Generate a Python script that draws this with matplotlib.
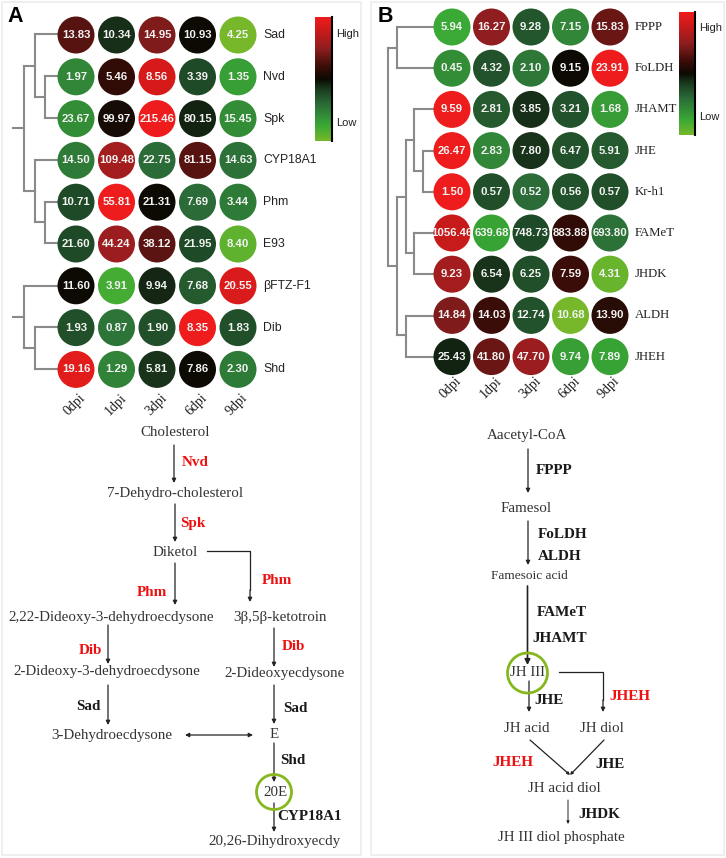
# Heatmaps of gene expression with the ecdysone and JH pathways below them.

import numpy as np
import matplotlib
matplotlib.use("Agg")
import matplotlib.pyplot as plt
from matplotlib.colors import LinearSegmentedColormap
from matplotlib.patches import Circle, FancyArrowPatch, Rectangle

days = ["0dpi", "1dpi", "3dpi", "6dpi", "9dpi"]

genes_a = ["Sad", "Nvd", "Spk", "CYP18A1", "Phm", "E93", "βFTZ-F1", "Dib", "Shd"]
values_a = [
    ["13.83", "10.34", "14.95", "10.93", "4.25"],
    ["1.97", "5.46", "8.56", "3.39", "1.35"],
    ["23.67", "99.97", "215.46", "80.15", "15.45"],
    ["14.50", "109.48", "22.75", "81.15", "14.63"],
    ["10.71", "55.81", "21.31", "7.69", "3.44"],
    ["21.60", "44.24", "38.12", "21.95", "8.40"],
    ["11.60", "3.91", "9.94", "7.68", "20.55"],
    ["1.93", "0.87", "1.90", "8.35", "1.83"],
    ["19.16", "1.29", "5.81", "7.86", "2.30"],
]
# colour position of each cell, 0 = low, 1 = high
levels_a = [
    [0.65, 0.44, 0.72, 0.50, 0.00],
    [0.22, 0.58, 0.92, 0.38, 0.15],
    [0.20, 0.52, 1.00, 0.46, 0.20],
    [0.25, 0.80, 0.30, 0.65, 0.28],
    [0.38, 1.00, 0.50, 0.30, 0.25],
    [0.38, 0.78, 0.66, 0.38, 0.05],
    [0.50, 0.10, 0.45, 0.34, 0.93],
    [0.37, 0.27, 0.37, 1.00, 0.37],
    [0.96, 0.23, 0.43, 0.50, 0.25],
]

genes_b = ["FPPP", "FoLDH", "JHAMT", "JHE", "Kr-h1", "FAMeT", "JHDK", "ALDH", "JHEH"]
values_b = [
    ["5.94", "16.27", "9.28", "7.15", "15.83"],
    ["0.45", "4.32", "2.10", "9.15", "23.91"],
    ["9.59", "2.81", "3.85", "3.21", "1.68"],
    ["26.47", "2.83", "7.80", "6.47", "5.91"],
    ["1.50", "0.57", "0.52", "0.56", "0.57"],
    ["1056.46", "639.68", "748.73", "883.88", "693.80"],
    ["9.23", "6.54", "6.25", "7.59", "4.31"],
    ["14.84", "14.03", "12.74", "10.68", "13.90"],
    ["25.43", "41.80", "47.70", "9.74", "7.89"],
]
levels_b = [
    [0.12, 0.75, 0.35, 0.22, 0.68],
    [0.20, 0.36, 0.26, 0.50, 1.00],
    [1.00, 0.34, 0.44, 0.36, 0.16],
    [1.00, 0.22, 0.43, 0.36, 0.34],
    [1.00, 0.37, 0.30, 0.36, 0.37],
    [0.88, 0.14, 0.38, 0.58, 0.28],
    [0.80, 0.43, 0.37, 0.60, 0.03],
    [0.72, 0.60, 0.36, 0.00, 0.56],
    [0.46, 0.68, 0.78, 0.15, 0.14],
]

cmap = LinearSegmentedColormap.from_list("rkg", [
    (0.00, "#76b82a"), (0.12, "#3aa935"), (0.30, "#2a6a38"), (0.42, "#1a3a1e"),
    (0.50, "#0c0a04"), (0.60, "#3a0d08"), (0.75, "#8f1e20"), (0.90, "#cf1a1a"),
    (1.00, "#ee1c1c"),
])

SERIF = "Liberation Serif"
SANS = "Liberation Sans"
GRAY = "#8a8a8a"
RED = "#ee1111"
GREEN = "#86b81e"

fig = plt.figure(figsize=(7.26, 8.58), dpi=100)
ax = fig.add_axes([0, 0, 1, 1])
ax.axis("off")


def heatmap(values, levels, genes, x0, y0, dx, dy, gene_font, gene_size, tick_y):
    for i in range(len(genes)):
        y = y0 + i * dy
        for j in range(len(days)):
            x = x0 + j * dx
            ax.add_patch(Circle((x, y), 18.5, color=cmap(levels[i][j]), lw=0, zorder=2))
            ax.text(x, y, values[i][j], color="#f2f2f2", family=SANS, weight="bold",
                    size=8.2, ha="center", va="center", zorder=3)
        ax.text(x0 + 4 * dx + 25, y, genes[i], color="#222222", family=gene_font,
                size=gene_size, ha="left", va="center")
    for j, day in enumerate(days):
        ax.text(x0 + j * dx - 1, tick_y, day, family=SERIF, size=10, rotation=45,
                color="#222222", ha="center", va="center")


def colorbar(x0, x1, y0, y1, high_y, low_y):
    grad = np.linspace(1, 0, 200).reshape(-1, 1)
    ax.imshow(grad, cmap=cmap, vmin=0, vmax=1, aspect="auto", extent=(x0, x1, y1, y0), zorder=2)
    ax.plot([x1, x1], [y0, y1], color="black", lw=1.5, zorder=3)
    ax.text(x1 + 4, high_y, "High", family=SANS, size=8, color="#222222", va="center")
    ax.text(x1 + 4, low_y, "Low", family=SANS, size=8, color="#222222", va="center")


def tree(segments):
    for x1, y1, x2, y2 in segments:
        ax.plot([x1, x2], [y1, y2], color=GRAY, lw=1.5, solid_capstyle="projecting", zorder=1)


def arrow(x1, y1, x2, y2, style="-|>", lw=0.9, head=6):
    ax.add_patch(FancyArrowPatch((x1, y1), (x2, y2), arrowstyle=style, mutation_scale=head,
                                 color="#222222", lw=lw, shrinkA=0, shrinkB=0, zorder=2))


def label(x, y, text, size=10.8):
    ax.text(x, y, text, family=SERIF, size=size, color="#333333",
            ha="center", va="center", zorder=3)


def enzyme(x, y, text, color="#1a1a1a"):
    ax.text(x, y, text, family=SERIF, weight="bold", size=10.9, color=color,
            ha="center", va="center", zorder=3)


# panel frames
ax.add_patch(Rectangle((2, 2), 359, 853, fill=False, ec="#ececec", lw=1.2))
ax.add_patch(Rectangle((371, 2), 353, 853, fill=False, ec="#ececec", lw=1.2))
ax.text(15, 17, "A", family=SANS, weight="bold", size=15.5, ha="center", va="center")
ax.text(385, 16, "B", family=SANS, weight="bold", size=15.5, ha="center", va="center")

# panel A heatmap
heatmap(values_a, levels_a, genes_a, 76, 35, 40.5, 41.8, SANS, 8.8, 405)
colorbar(315, 332, 17, 141, 34, 123)
tree([
    (13, 128, 24, 128), (24, 66, 24, 191), (24, 66, 35, 66), (35, 34, 35, 97),
    (35, 34, 58, 34), (35, 97, 45, 97), (45, 76, 45, 118), (45, 76, 58, 76),
    (45, 118, 58, 118), (24, 191, 35, 191), (35, 160, 35, 222), (35, 160, 58, 160),
    (35, 222, 45, 222), (45, 202, 45, 243), (45, 202, 58, 202), (45, 243, 58, 243),
    (13, 317, 24, 317), (24, 286, 24, 348), (24, 286, 58, 286), (24, 348, 35, 348),
    (35, 327, 35, 369), (35, 327, 58, 327), (35, 369, 58, 369),
])

# panel B heatmap
heatmap(values_b, levels_b, genes_b, 452, 27, 39.5, 41.2, SERIF, 9.2, 388)
colorbar(679, 695, 12, 135, 28, 117)
tree([
    (388, 48, 388, 266), (388, 48, 397, 48), (397, 27, 397, 68), (397, 27, 433, 27),
    (397, 68, 433, 68), (388, 266, 397, 266), (397, 197, 397, 335), (397, 197, 406, 197),
    (406, 140, 406, 253), (406, 140, 414, 140), (414, 109, 414, 171), (414, 109, 433, 109),
    (414, 171, 423, 171), (423, 151, 423, 192), (423, 151, 433, 151), (423, 192, 433, 192),
    (406, 253, 414, 253), (414, 233, 414, 274), (414, 233, 433, 233), (414, 274, 433, 274),
    (397, 335, 406, 335), (406, 316, 406, 357), (406, 316, 433, 316), (406, 357, 433, 357),
])

# panel A pathway
label(175, 432, "Cholesterol")
label(175, 494, "7-Dehydro-cholesterol")
label(175.5, 552, "Diketol")
label(111, 617, "2,22-Dideoxy-3-dehydroecdysone")
label(280, 617, "3β,5β-ketotroin")
label(107, 672, "2-Dideoxy-3-dehydroecdysone")
label(285, 673, "2-Dideoxyecdysone")
label(112, 735, "3-Dehydroecdysone")
label(274, 734, "E")
label(275, 793, "20E")
label(274, 842, "20,26-Dihydroxyecdy")

arrow(174, 445, 174, 483)
arrow(175, 504, 175, 542)
arrow(175, 563, 175, 605)
ax.plot([207, 250, 250], [551, 551, 590], color="#222222", lw=0.9)
arrow(250, 590, 250, 602)
arrow(108, 625, 108, 664)
arrow(274, 628, 274, 667)
arrow(108, 685, 108, 725)
arrow(274, 685, 274, 724)
arrow(185, 735, 253, 735, style="<|-|>")
arrow(274, 743, 274, 782)
arrow(274, 803, 274, 832)
ax.add_patch(Circle((274, 792), 17.5, fill=False, ec=GREEN, lw=2, zorder=4))

enzyme(195, 463, "Nvd", RED)
enzyme(193, 523, "Spk", RED)
enzyme(152, 593, "Phm", RED)
enzyme(277, 581, "Phm", RED)
enzyme(90, 650, "Dib", RED)
enzyme(293, 646, "Dib", RED)
enzyme(88, 706, "Sad")
enzyme(295, 708, "Sad")
enzyme(293, 761, "Shd")
enzyme(310, 817, "CYP18A1")

# panel B pathway
label(527, 435, "Aacetyl-CoA")
label(526.5, 508, "Famesol")
label(529, 576, "Famesoic acid", size=9.6)
label(527, 673, "JH III")
label(527, 728, "JH acid")
label(602, 729, "JH diol")
label(564, 788, "JH acid diol")
label(561, 838, "JH III diol phosphate")

arrow(528, 449, 528, 493)
arrow(528, 521, 528, 565)
arrow(527.5, 586, 527.5, 665, lw=1.2, head=8)
ax.plot([559, 603, 603], [672, 672, 700], color="#222222", lw=0.9)
arrow(603, 700, 603, 712)
arrow(529, 681, 529, 712)
arrow(530, 740, 570, 775, head=4)
arrow(604, 740, 570, 775, head=4)
arrow(568, 800, 568, 824, lw=0.7, head=4)
ax.add_patch(Circle((527.5, 673), 20, fill=False, ec=GREEN, lw=2, zorder=4))

enzyme(554, 471, "FPPP")
enzyme(563, 535, "FoLDH")
enzyme(560, 556, "ALDH")
enzyme(562, 613, "FAMeT")
enzyme(560, 638, "JHAMT")
enzyme(549, 701, "JHE")
enzyme(630, 696, "JHEH", RED)
enzyme(513, 762, "JHEH", RED)
enzyme(610, 764, "JHE")
enzyme(599, 815, "JHDK")

ax.set_xlim(0, 726)
ax.set_ylim(858, 0)

fig.savefig("out.png", dpi=100)
